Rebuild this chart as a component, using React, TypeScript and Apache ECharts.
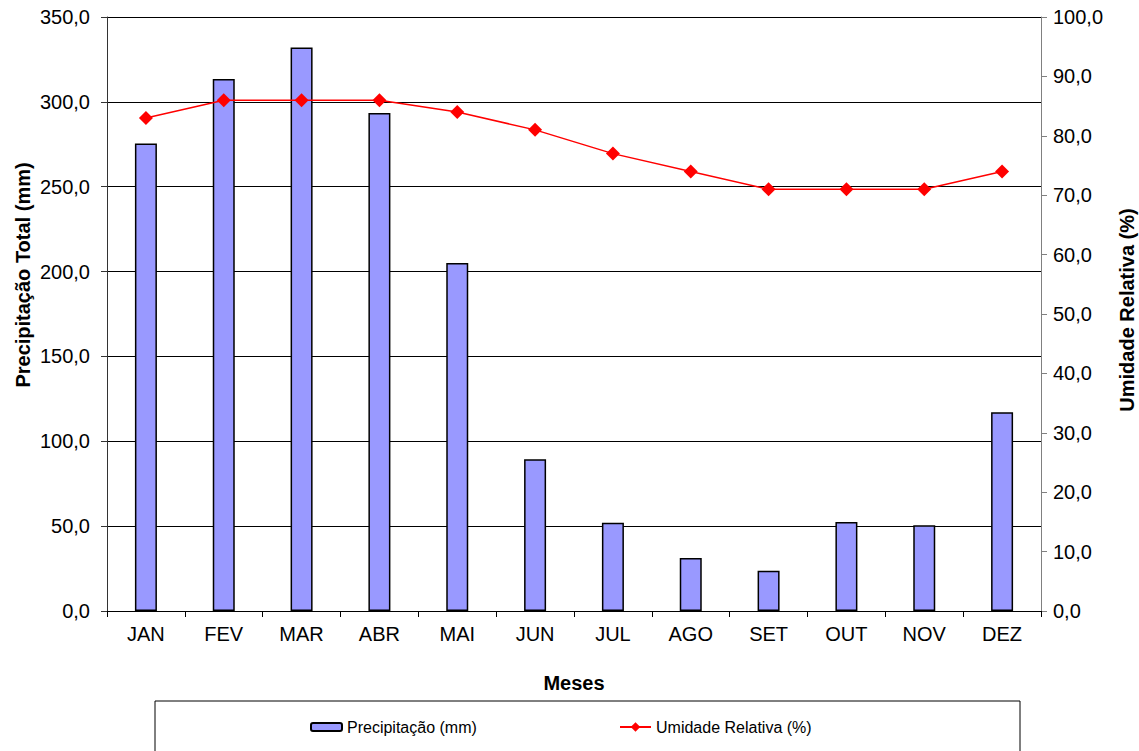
import React, { useEffect, useRef } from "react";
import * as echarts from "echarts";

const months = ["JAN", "FEV", "MAR", "ABR", "MAI", "JUN", "JUL", "AGO", "SET", "OUT", "NOV", "DEZ"];
const precipitation = [275.4, 313.5, 332.0, 293.5, 205.0, 89.4, 52.0, 31.2, 23.7, 52.5, 50.5, 117.1];
const humidity = [83, 86, 86, 86, 84, 81, 77, 74, 71, 71, 71, 74];

const fmt = (v: number) => v.toFixed(1).replace(".", ",");
const FONT = "Liberation Sans, Arial, sans-serif";

export default function App() {
  const ref = useRef<HTMLDivElement>(null);
  useEffect(() => {
    if (!ref.current) return;
    const chart = echarts.init(ref.current, null, { renderer: "svg" });
    chart.setOption({
      animation: false,
      backgroundColor: "#ffffff",
      textStyle: { fontFamily: FONT },
      grid: { left: 107, right: 98, top: 17, bottom: 140, containLabel: false, outerBoundsMode: "none" },
      graphic: [
        {
          type: "rect",
          shape: { x: 155, y: 701, width: 865, height: 60 },
          style: { fill: "#ffffff", stroke: "#000000", lineWidth: 1 },
          z: -1,
        },
        {
          type: "text",
          x: 23,
          y: 275,
          rotation: Math.PI / 2,
          style: {
            text: "Precipitação Total (mm)",
            fontFamily: FONT,
            fontSize: 20,
            fontWeight: "bold",
            fill: "#000",
            align: "center",
            verticalAlign: "middle",
          },
        },
        {
          type: "text",
          x: 1127,
          y: 310,
          rotation: Math.PI / 2,
          style: {
            text: "Umidade Relativa (%)",
            fontFamily: FONT,
            fontSize: 20,
            fontWeight: "bold",
            fill: "#000",
            align: "center",
            verticalAlign: "middle",
          },
        },
      ],
      legend: [
        {
          data: ["Precipitação (mm)"],
          left: 310,
          top: 719,
          padding: 0,
          itemWidth: 31,
          itemHeight: 8,
          itemGap: 2,
          textStyle: { fontFamily: FONT, fontSize: 16, color: "#000" },
        },
        {
          data: ["Umidade Relativa (%)"],
          left: 619,
          top: 719,
          padding: 0,
          itemWidth: 31,
          itemHeight: 12,
          textStyle: { fontFamily: FONT, fontSize: 16, color: "#000" },
        },
      ],
      xAxis: {
        type: "category",
        data: months,
        name: "Meses",
        nameLocation: "middle",
        nameGap: 62,
        nameTextStyle: { fontFamily: FONT, fontSize: 20, fontWeight: "bold", color: "#000" },
        axisLine: { lineStyle: { color: "#000", width: 1 } },
        axisTick: { show: true, length: 6, lineStyle: { color: "#000" } },
        axisLabel: { fontFamily: FONT, fontSize: 20, color: "#000", margin: 13 },
      },
      yAxis: [
        {
          type: "value",
          min: 0,
          max: 350,
          interval: 50,
          axisLine: { show: true, lineStyle: { color: "#333", width: 1 } },
          axisTick: { show: true, length: 6, lineStyle: { color: "#333" } },
          axisLabel: { fontFamily: FONT, fontSize: 20, color: "#000", margin: 17, formatter: fmt },
          splitLine: { show: true, lineStyle: { color: "#000", width: 1 } },
        },
        {
          type: "value",
          min: 0,
          max: 100,
          interval: 10,
          position: "right",
          axisLine: { show: true, lineStyle: { color: "#808080", width: 1 } },
          axisTick: { show: true, length: 6, lineStyle: { color: "#808080" } },
          axisLabel: { fontFamily: FONT, fontSize: 20, color: "#000", margin: 12, formatter: fmt },
          splitLine: { show: false },
        },
      ],
      series: [
        {
          name: "Precipitação (mm)",
          type: "bar",
          yAxisIndex: 0,
          data: precipitation,
          barWidth: 22,
          itemStyle: { color: "#9999FF", borderColor: "#000", borderWidth: 1.5 },
        },
        {
          name: "Umidade Relativa (%)",
          type: "line",
          yAxisIndex: 1,
          data: humidity,
          symbol: "diamond",
          symbolSize: 14,
          lineStyle: { color: "#FF0000", width: 1.5 },
          itemStyle: { color: "#FF0000" },
        },
      ],
    });
    return () => chart.dispose();
  }, []);
  return <div ref={ref} style={{ width: 1139, height: 751, position: "absolute", left: 0, top: 0 }} />;
}
